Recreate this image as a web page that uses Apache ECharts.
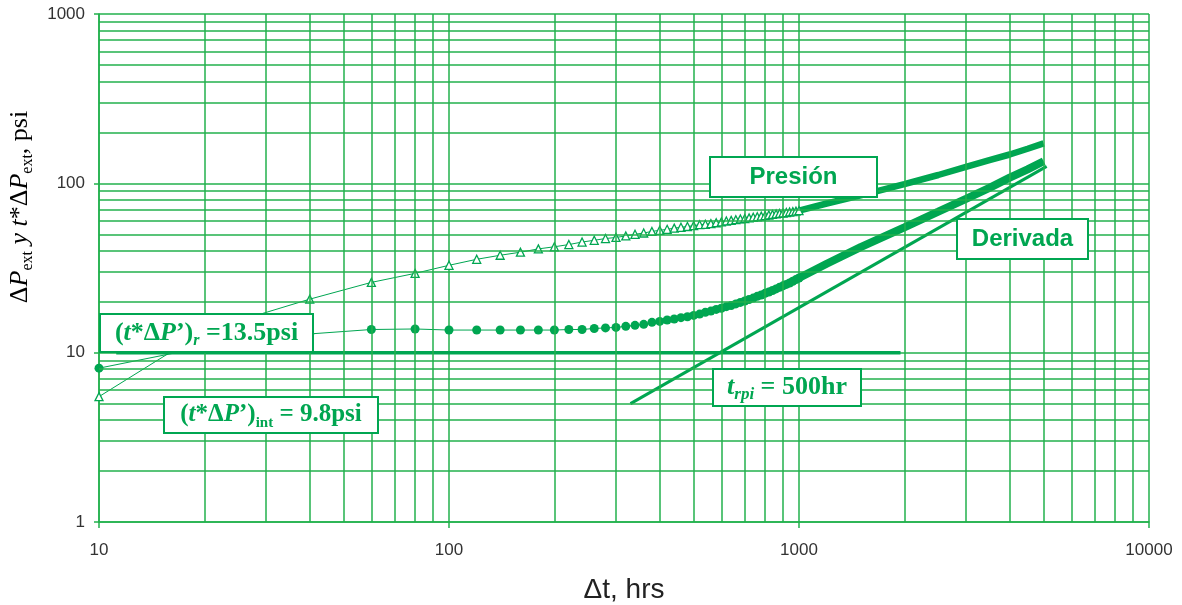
<!DOCTYPE html>
<html>
<head>
<meta charset="utf-8">
<style>
  html, body { margin: 0; padding: 0; background: #fff; }
  #main { width: 1182px; height: 605px; }
</style>
<script src="https://cdn.jsdelivr.net/npm/echarts/dist/echarts.min.js"></script>
</head>
<body>
<div id="main"></div>
<script>
// tiempos (hrs) de los puntos dibujados con marcador
const dt = [10, 20, 40, 60, 80, 100, 120, 140, 160, 180, 200, 220, 240, 260, 280, 300,
  320, 340, 360, 380, 400, 420, 440, 460, 480, 500, 520, 540, 560, 580, 600, 620, 640,
  660, 680, 700, 720, 740, 760, 780, 800, 820, 840, 860, 880, 900, 920, 940, 960, 980, 1000]
// presión (psi)
const pressure = [5.5, 13.4, 20.7, 26.0, 29.4, 32.8, 35.6, 37.6, 39.2, 41.0, 42.2, 43.5,
  45.0, 46.1, 47.2, 47.9, 48.9, 50.0, 50.9, 52.0, 52.8, 53.5, 54.4, 55.0, 55.6, 56.2,
  57.0, 57.3, 57.8, 58.5, 59.2, 59.9, 60.4, 61.0, 61.6, 62.0, 62.5, 63.0, 63.5, 64.0,
  64.5, 65.0, 65.5, 66.0, 66.4, 66.8, 67.2, 67.7, 68.1, 68.5, 69.0]
// derivada (psi)
const derivative = [8.1, 10.8, 12.9, 13.7, 13.8, 13.6, 13.6, 13.6, 13.6, 13.6, 13.6, 13.7,
  13.7, 13.9, 14.0, 14.1, 14.3, 14.5, 14.7, 15.1, 15.3, 15.6, 15.8, 16.1, 16.3, 16.6,
  16.9, 17.3, 17.6, 18.0, 18.3, 18.7, 19.0, 19.4, 19.8, 20.2, 20.6, 21.0, 21.5, 21.9,
  22.4, 22.8, 23.3, 23.8, 24.3, 24.8, 25.3, 25.8, 26.4, 27.0, 27.6]

// tramo final, donde los marcadores se funden en una banda
const dtTail = [1000, 1200, 1500, 2000, 2500, 3000, 3500, 4000, 4500, 5000]
const pressureTail = [69, 76, 85, 99, 112, 125, 137, 148, 160, 172]
const derivativeTail = [27.6, 33.5, 42, 55, 68, 81, 94, 108, 121, 135]

// rectas de interpretación
const flatDt = [11.2, 1950]
const flatVal = [10, 10]
const slopeDt = [330, 5100]
const slopeVal = [5, 126]

// líneas menores de la cuadrícula
const xMinor = [20, 30, 40, 50, 60, 70, 80, 90, 200, 300, 400, 500, 600, 700, 800, 900,
  2000, 3000, 4000, 5000, 6000, 7000, 8000, 9000]
const yMinor = [2, 3, 4, 5, 6, 7, 8, 9, 20, 30, 40, 50, 60, 70, 80, 90, 200, 300, 400,
  500, 600, 700, 800, 900]

const GRID = '#22b14c'
const GREEN = '#00a651'
const SERIF = '"Liberation Serif", "Times New Roman", serif'
const SANS = '"Liberation Sans", Arial, sans-serif'

const zip = (xs, ys) => xs.map((x, i) => [x, ys[i]])

const chart = echarts.init(document.getElementById('main'))

// caja con texto (anotaciones del gráfico)
const box = (x, y, w, h, text, rich, font) => ({
  type: 'group', x, y, z: 100,
  children: [
    { type: 'rect', z: 100, shape: { x: 0, y: 0, width: w, height: h },
      style: { fill: '#fff', stroke: GREEN, lineWidth: 2 } },
    { type: 'text', z: 101, x: w / 2, y: h / 2,
      style: { text, rich, font, fill: GREEN, align: 'center', verticalAlign: 'middle' } }
  ]
})

const serifRich = (size, sub) => ({
  n: { fontFamily: SERIF, fontWeight: 'bold', fontSize: size, color: GREEN, lineHeight: size + 6 },
  i: { fontFamily: SERIF, fontWeight: 'bold', fontStyle: 'italic', fontSize: size, color: GREEN, lineHeight: size + 6 },
  s: { fontFamily: SERIF, fontWeight: 'bold', fontStyle: 'italic', fontSize: sub, color: GREEN, lineHeight: size + 6, verticalAlign: 'bottom' },
  u: { fontFamily: SERIF, fontWeight: 'bold', fontSize: sub, color: GREEN, lineHeight: size + 6, verticalAlign: 'bottom' }
})

const option = {
  animation: false,
  backgroundColor: '#fff',
  grid: { left: 99, right: 33, top: 14, bottom: 83, containLabel: false, outerBoundsMode: 'none' },
  xAxis: {
    type: 'log', logBase: 10, min: 10, max: 10000,
    name: '\u0394t, hrs', nameLocation: 'middle', nameGap: 54,
    nameTextStyle: { fontFamily: SANS, fontSize: 28, color: '#222' },
    axisLine: { show: true, lineStyle: { color: GRID, width: 1.5 } },
    axisTick: { show: true, length: 6, lineStyle: { color: GRID, width: 1.5 } },
    axisLabel: { fontFamily: SANS, fontSize: 17, color: '#333', margin: 20,
      formatter: v => String(Math.round(v)) },
    splitLine: { show: true, lineStyle: { color: GRID, width: 1.5 } }
  },
  yAxis: {
    type: 'log', logBase: 10, min: 1, max: 1000,
    axisLine: { show: true, lineStyle: { color: GRID, width: 1.5 } },
    axisTick: { show: true, length: 5, lineStyle: { color: GRID, width: 1.5 } },
    axisLabel: { fontFamily: SANS, fontSize: 17, color: '#333', margin: 14,
      formatter: v => String(Math.round(v)) },
    splitLine: { show: true, lineStyle: { color: GRID, width: 1.5 } }
  },
  series: [
    {
      name: 'cuadricula', type: 'line', data: [], silent: true,
      markLine: {
        silent: true, symbol: ['none', 'none'], label: { show: false },
        lineStyle: { color: GRID, width: 1.5, type: 'solid' },
        emphasis: { disabled: true },
        data: xMinor.map(v => ({ xAxis: v })).concat(yMinor.map(v => ({ yAxis: v })))
      }
    },
    {
      name: 'horizontal', type: 'line', data: zip(flatDt, flatVal), symbol: 'none',
      lineStyle: { color: GREEN, width: 3.5 }
    },
    {
      name: 'pendiente', type: 'line', data: zip(slopeDt, slopeVal), symbol: 'none',
      lineStyle: { color: GREEN, width: 3 }
    },
    {
      name: 'Presión', type: 'line', data: zip(dt, pressure),
      symbol: 'triangle', symbolSize: 8,
      itemStyle: { color: '#fff', borderColor: GREEN, borderWidth: 1.3 },
      lineStyle: { color: GREEN, width: 1 }
    },
    {
      name: 'Presión tramo', type: 'line', data: zip(dtTail, pressureTail), symbol: 'none',
      lineStyle: { color: GREEN, width: 6.5 }
    },
    {
      name: 'Derivada', type: 'line', data: zip(dt, derivative),
      symbol: 'circle', symbolSize: 9,
      itemStyle: { color: GREEN },
      lineStyle: { color: GREEN, width: 1 }
    },
    {
      name: 'Derivada tramo', type: 'line', data: zip(dtTail, derivativeTail), symbol: 'none',
      lineStyle: { color: GREEN, width: 8 }
    }
  ],
  graphic: [
    {
      type: 'text', x: 20, y: 207, rotation: Math.PI / 2, z: 100,
      style: {
        text: '{n|\u0394}{i|P}{s|ext}{i| y t}{n|*\u0394}{i|P}{s|ext}{n|, psi}',
        align: 'center', verticalAlign: 'middle',
        rich: {
          n: { fontFamily: SERIF, fontSize: 26, color: '#222', lineHeight: 32 },
          i: { fontFamily: SERIF, fontStyle: 'italic', fontSize: 26, color: '#222', lineHeight: 32 },
          s: { fontFamily: SERIF, fontSize: 16, color: '#222', lineHeight: 32, verticalAlign: 'bottom' }
        }
      }
    },
    box(710, 157, 167, 40, 'Presión', null, 'bold 24px ' + SANS),
    box(957, 219, 131, 40, 'Derivada', null, 'bold 24px ' + SANS),
    box(713, 369, 148, 37, '{i|t}{s|rpi}{n| = 500hr}', serifRich(26, 17)),
    box(100, 314, 213, 38, '{n|(}{i|t}{n|*\u0394}{i|P}{n|\u2019)}{s|r}{n| =13.5psi}', serifRich(26, 16)),
    box(164, 397, 214, 36, '{n|(}{i|t}{n|*\u0394}{i|P}{n|\u2019)}{u|int}{n| = 9.8psi}', serifRich(25, 15))
  ]
}

chart.setOption(option)
</script>
</body>
</html>
